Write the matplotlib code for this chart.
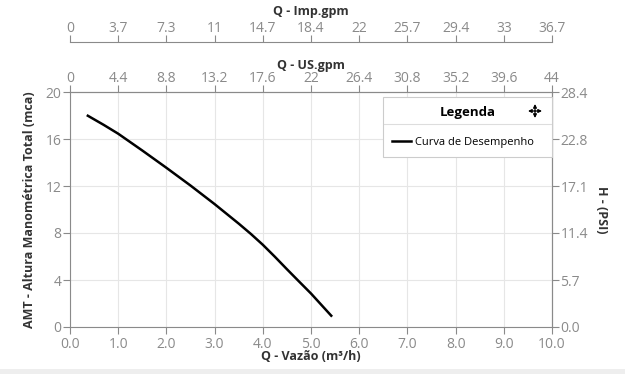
import matplotlib.pyplot as plt
from matplotlib.patches import Rectangle
from matplotlib.lines import Line2D

# dados da curva (Q em m3/h, AMT em mca)
vazao = [0.37, 0.7, 1.0, 1.5, 2.0, 2.5, 3.0, 3.5, 3.75, 4.0, 4.25, 4.5, 4.75, 5.0, 5.42]
amt = [17.98, 17.2, 16.45, 15.02, 13.55, 12.04, 10.46, 8.8, 7.93, 7.0, 5.98, 4.92, 3.88, 2.85, 0.96]

xticks = [0, 1, 2, 3, 4, 5, 6, 7, 8, 9, 10]
us_gpm = ["0", "4.4", "8.8", "13.2", "17.6", "22", "26.4", "30.8", "35.2", "39.6", "44"]
imp_gpm = ["0", "3.7", "7.3", "11", "14.7", "18.4", "22", "25.7", "29.4", "33", "36.7"]
yticks = [0, 4, 8, 12, 16, 20]
psi = ["0.0", "5.7", "11.4", "17.1", "22.8", "28.4"]

plt.rcParams['font.family'] = ['Open Sans', 'DejaVu Sans']
cinza = "#8a8a8a"
escuro = "#333333"

W, H = 625, 374
fig = plt.figure(figsize=(6.25, 3.74), dpi=100)
fig.patches.append(Rectangle((0, 0), 1, 5 / H, transform=fig.transFigure,
                             facecolor="#eeeeee", edgecolor="none"))
ax = fig.add_axes([70 / W, 47 / H, 482 / W, 235 / H])

ax.plot(vazao, amt, color="black", linewidth=1.8, label="Curva de Desempenho",
        solid_joinstyle="round")
ax.set_xlim(0, 10)
ax.set_ylim(0, 20)
ax.set_xticks(xticks)
ax.set_xticklabels([f"{v:.1f}" for v in xticks])
ax.set_yticks(yticks)
ax.grid(True, color="#e6e6e6", linewidth=0.8)
ax.set_axisbelow(True)
for s in ax.spines.values():
    s.set_color(cinza)
ax.tick_params(colors=cinza, labelcolor=cinza, labelsize=10, length=5, direction="out")
ax.tick_params(axis="x", pad=2)
ax.tick_params(axis="y", pad=1)
ax.set_xlabel("Q - Vazão (m³/h)", fontsize=9, fontweight="bold", color=escuro)
ax.xaxis.set_label_coords(0.5, (327 - 357) / 235)
ax.xaxis.label.set_va("center")
ax.set_ylabel("AMT - Altura Manométrica Total (mca)", fontsize=9, fontweight="bold", color=escuro)
ax.yaxis.set_label_coords((30 - 70) / 482, 0.5)
ax.yaxis.label.set_va("center")

# eixo direito PSI
ax_r = ax.secondary_yaxis("right")
ax_r.set_yticks(yticks)
ax_r.set_yticklabels(psi)
ax_r.spines["right"].set_color(cinza)
ax_r.tick_params(colors=cinza, labelcolor=cinza, labelsize=10, length=5, pad=1)
ax_r.set_ylabel("H - (PSI)", rotation=270, fontsize=9, fontweight="bold", color=escuro)
ax_r.yaxis.set_label_coords((602 - 70) / 482, 0.5, transform=ax.transAxes)
ax_r.yaxis.label.set_va("center")

# eixos superiores
ax_us = ax.secondary_xaxis("top")
ax_us.set_xticks(xticks)
ax_us.set_xticklabels(us_gpm)
ax_us.spines["top"].set_color(cinza)
ax_us.tick_params(colors=cinza, labelcolor=cinza, labelsize=10, length=5, pad=-1)
ax_us.set_xlabel("Q - US.gpm", fontsize=9, fontweight="bold", color=escuro)
ax_us.xaxis.set_label_coords(0.5, (327 - 65) / 235, transform=ax.transAxes)
ax_us.xaxis.label.set_va("center")

ax_imp = ax.secondary_xaxis(1 + 50 / 235)
ax_imp.set_xticks(xticks)
ax_imp.set_xticklabels(imp_gpm)
ax_imp.spines["top"].set_color(cinza)
ax_imp.tick_params(colors=cinza, labelcolor=cinza, labelsize=10, length=5, pad=-1)
ax_imp.set_xlabel("Q - Imp.gpm", fontsize=9, fontweight="bold", color=escuro)
ax_imp.xaxis.set_label_coords(0.5, (327 - 11) / 235, transform=ax.transAxes)
ax_imp.xaxis.label.set_va("center")

# legenda
x0, x1, y0, y1 = 383, 552, 97, 153
leg = ax.legend(loc="upper left", bbox_to_anchor=(x0 / W, 1 - y1 / H, (x1 - x0) / W, (y1 - y0) / H),
                bbox_transform=fig.transFigure, mode="expand", borderaxespad=0, fancybox=False,
                edgecolor="#cccccc", framealpha=1, fontsize=8, handlelength=1.7,
                handletextpad=0.4, borderpad=0.8, title="Legenda",
                title_fontproperties={"weight": "bold", "size": 9.5})
leg.get_frame().set_linewidth(0.8)
leg._legend_box.sep = 13
fig.add_artist(Line2D([(x0 + 1) / W, (x1 - 1) / W], [1 - 124 / H, 1 - 124 / H],
                      transform=fig.transFigure, color="#dddddd", linewidth=0.8))
# icone de mover
cx, cy = 535, 111
for dx, dy in [(7, 0), (-7, 0), (0, 7), (0, -7)]:
    fig.add_artist(plt.annotate("", xy=((cx + dx) / W, 1 - (cy - dy) / H),
                                xytext=(cx / W, 1 - cy / H), xycoords=fig.transFigure,
                                arrowprops=dict(arrowstyle="-|>", color="black", lw=0.9,
                                                mutation_scale=5, shrinkA=0, shrinkB=0)))

fig.savefig("out.png", dpi=100)
